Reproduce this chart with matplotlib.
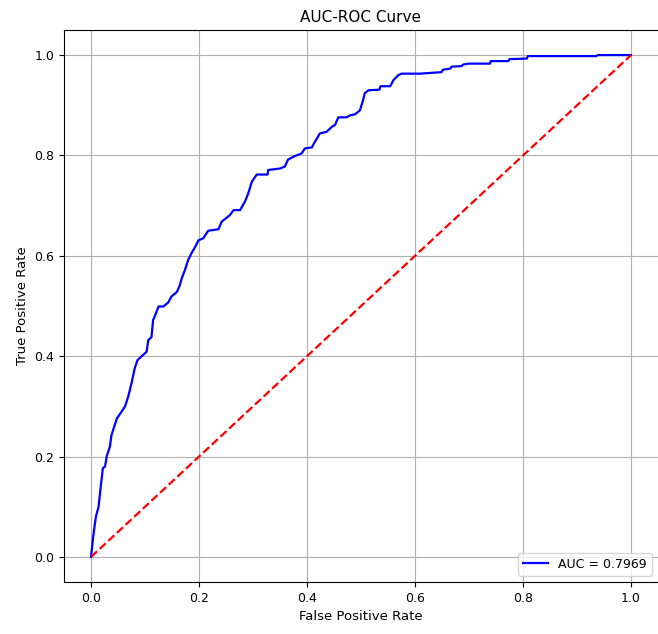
import numpy as np
import matplotlib
matplotlib.use('Agg')
import matplotlib.pyplot as plt

# ROC points (false positive rate, true positive rate)
fpr = [0.0, 0.004, 0.009, 0.014, 0.018, 0.022, 0.026, 0.029, 0.035, 0.038,
       0.044, 0.048, 0.057, 0.063, 0.069, 0.075, 0.081, 0.086, 0.094, 0.103,
       0.106, 0.112, 0.115, 0.119, 0.125, 0.134, 0.143, 0.149, 0.159, 0.164,
       0.168, 0.174, 0.180, 0.186, 0.193, 0.199, 0.208, 0.217, 0.236, 0.242,
       0.257, 0.264, 0.276, 0.285, 0.291, 0.298, 0.307, 0.327, 0.328, 0.350,
       0.359, 0.365, 0.378, 0.390, 0.396, 0.409, 0.415, 0.424, 0.436, 0.446,
       0.452, 0.458, 0.473, 0.480, 0.489, 0.498, 0.503, 0.507, 0.514, 0.534,
       0.536, 0.554, 0.560, 0.569, 0.575, 0.609, 0.649, 0.652, 0.665, 0.668,
       0.686, 0.689, 0.699, 0.739, 0.740, 0.773, 0.775, 0.807, 0.809, 0.936,
       0.938, 1.0]
tpr = [0.0, 0.040, 0.080, 0.100, 0.140, 0.177, 0.180, 0.200, 0.220, 0.243,
       0.263, 0.276, 0.290, 0.300, 0.320, 0.346, 0.376, 0.392, 0.400, 0.409,
       0.432, 0.438, 0.472, 0.482, 0.499, 0.499, 0.507, 0.519, 0.528, 0.540,
       0.555, 0.572, 0.592, 0.605, 0.618, 0.631, 0.635, 0.650, 0.653, 0.668,
       0.681, 0.691, 0.691, 0.708, 0.724, 0.748, 0.762, 0.762, 0.771, 0.774,
       0.778, 0.792, 0.799, 0.804, 0.814, 0.816, 0.828, 0.844, 0.847, 0.857,
       0.861, 0.876, 0.876, 0.880, 0.882, 0.890, 0.907, 0.924, 0.930, 0.931,
       0.938, 0.938, 0.950, 0.960, 0.963, 0.963, 0.966, 0.971, 0.973, 0.977,
       0.978, 0.981, 0.983, 0.983, 0.988, 0.988, 0.992, 0.993, 0.998, 0.998,
       1.0, 1.0]
auc_score = 0.7969

#------------------------

fig = plt.figure(figsize=(6.58, 6.34), dpi=100)
ax = fig.add_axes([64 / 658, 52 / 634, 594 / 658, 552 / 634])

ax.plot(fpr, tpr, color='blue', linewidth=1.6, label=f"AUC = {auc_score:.4f}")
ax.plot([0, 1], [0, 1], color='red', linestyle='--', linewidth=1.6)

ax.set_xlim(-0.05, 1.05)
ax.set_ylim(-0.05, 1.05)
ax.spines['right'].set_visible(False)  # cut off at the picture edge in the original
ax.tick_params(labelsize=9)
ax.set_title("AUC-ROC Curve", fontsize=11)
ax.set_xlabel("False Positive Rate", fontsize=9.5)
ax.set_ylabel("True Positive Rate", fontsize=9.5)
ax.legend(loc='lower right', fontsize=9)
ax.grid(True)

fig.savefig('out.png', dpi=100)
